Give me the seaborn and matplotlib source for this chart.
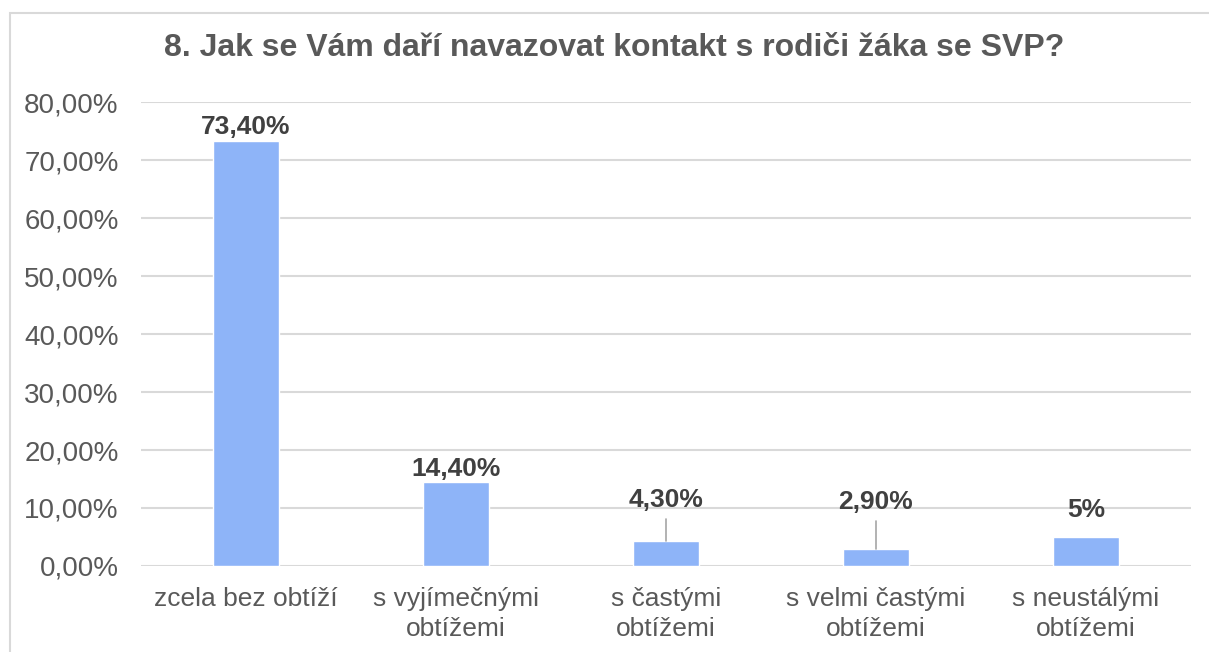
import matplotlib
matplotlib.use("Agg")
import matplotlib.pyplot as plt
import seaborn as sns
import pandas as pd
from matplotlib.patches import Rectangle

categories = ["zcela bez obtíží", "s vyjímečnými\nobtížemi", "s častými\nobtížemi",
              "s velmi častými\nobtížemi", "s neustálými\nobtížemi"]
values = [73.4, 14.4, 4.3, 2.9, 5.0]
labels = ["73,40%", "14,40%", "4,30%", "2,90%", "5%"]
yticks = [0, 10, 20, 30, 40, 50, 60, 70, 80]
ytick_labels = ["0,00%", "10,00%", "20,00%", "30,00%", "40,00%", "50,00%", "60,00%", "70,00%", "80,00%"]
title = "8. Jak se Vám daří navazovat kontakt s rodiči žáka se SVP?"

sns.set_style("white")
plt.rcParams['font.family'] = ['Liberation Sans', 'DejaVu Sans']

stats = pd.DataFrame({"kat": categories, "hodnota": values})

fig = plt.figure(figsize=(12.09, 6.52), dpi=100)
ax = fig.add_axes([0.1166, 0.132, 0.985 - 0.1166, 0.843 - 0.132])

sns.barplot(x="kat", y="hodnota", data=stats, color="#8EB4F8", width=0.314,
            saturation=1, ax=ax, zorder=3)

ax.set_ylim(0, 80)
ax.set_xlim(-0.5, 4.5)
ax.set_yticks(yticks)
ax.set_yticklabels(ytick_labels)
ax.yaxis.grid(True, color="#d9d9d9", linewidth=1.5, zorder=0)
ax.set_axisbelow(True)
for s in ax.spines.values():
    s.set_visible(False)
ax.tick_params(axis="y", length=0, pad=16, labelsize=20, labelcolor="#595959")
ax.tick_params(axis="x", length=0, pad=15, labelsize=19, labelcolor="#595959")
for t in ax.get_xticklabels():
    t.set_linespacing(1.35)
ax.set_xlabel("")
ax.set_ylabel("")

# labels above bars; the small ones are lifted (two with a leader line)
lifted = {2: (11.4, 8.1), 3: (11.0, 7.8), 4: (9.65, None)}
for i, (v, lab) in enumerate(zip(values, labels)):
    if i in lifted:
        ty, ly = lifted[i]
        if ly is not None:
            ax.plot([i, i], [v, ly], color="#a6a6a6", linewidth=1.2, zorder=4)
        ax.text(i, ty, lab, ha="center", va="center", fontsize=19,
                fontweight="bold", color="#404040")
    else:
        ax.annotate(lab, (i, v), xytext=(0, 1), textcoords="offset points",
                    ha="center", va="bottom", fontsize=19, fontweight="bold",
                    color="#404040")

fig.text(0.508, 0.927, title, ha="center", va="center", fontsize=23,
         fontweight="bold", color="#595959")

fig.patches.append(Rectangle((0.0083, -0.05), 1.1, 1.0300, transform=fig.transFigure,
                             fill=False, edgecolor="#d9d9d9", linewidth=1.5))

fig.savefig("out.png", dpi=100)
